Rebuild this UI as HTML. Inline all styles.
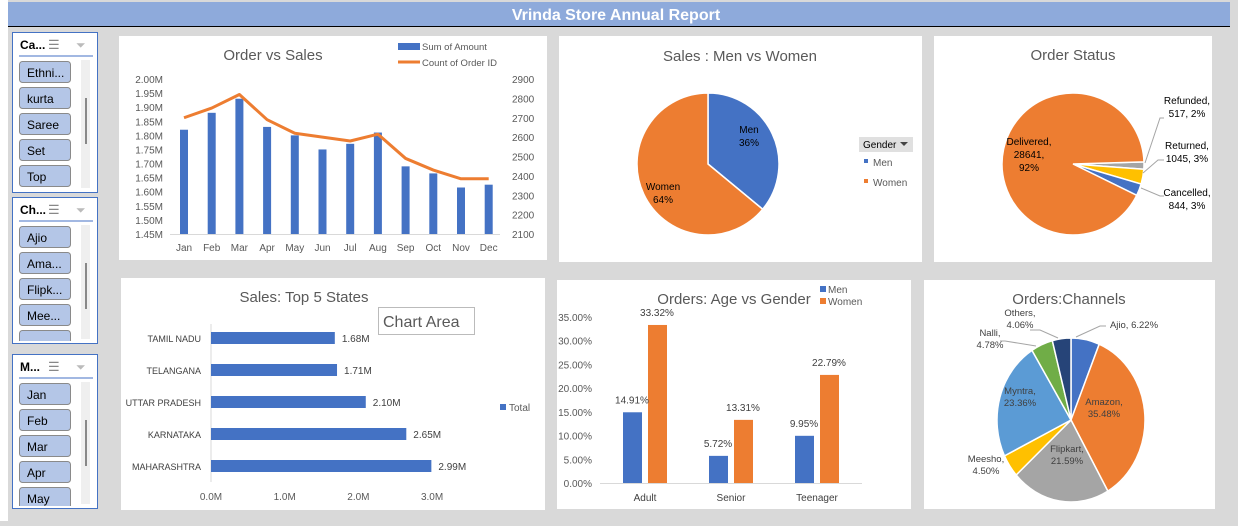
<!DOCTYPE html>
<html><head><meta charset="utf-8">
<style>
body{margin:0;width:1238px;height:521px;overflow:hidden;background:#d9d9d9;font-family:"Liberation Sans",sans-serif;}
svg text{font-family:"Liberation Sans",sans-serif;}
</style></head>
<body>
<svg id="root" width="1238" height="521" xmlns="http://www.w3.org/2000/svg">
<rect x="0" y="0" width="1238" height="521" fill="#d9d9d9"/>
<rect x="0" y="0" width="8" height="521" fill="#ffffff"/>
<rect x="8" y="2" width="1222" height="24" fill="#8eaadb"/>
<line x1="8" y1="26.5" x2="1230" y2="26.5" stroke="#000" stroke-width="1"/>
<text x="616" y="20" text-anchor="middle" font-size="16" font-weight="bold" fill="#fff">Vrinda Store Annual Report</text>
<g id="slicers"></g>
<g id="cards"></g>
<g id="c1"></g><g id="c2"></g><g id="c3"></g><g id="c4"></g><g id="c5"></g><g id="c6"></g>
</svg>
<script>
const NS='http://www.w3.org/2000/svg';
function mk(parent,tag,attrs,text){const e=document.createElementNS(NS,tag);for(const k in attrs)e.setAttribute(k,attrs[k]);if(text!==undefined)e.textContent=text;parent.appendChild(e);return e;}
const $=id=>document.getElementById(id);

// ---------- data ----------
const months=['Jan','Feb','Mar','Apr','May','Jun','Jul','Aug','Sep','Oct','Nov','Dec'];
const salesM=[1.82,1.88,1.93,1.83,1.80,1.75,1.77,1.81,1.69,1.665,1.615,1.625];
const orderCount=[2700,2750,2820,2690,2620,2600,2580,2615,2490,2430,2385,2385];
const leftTicks=[1.45,1.50,1.55,1.60,1.65,1.70,1.75,1.80,1.85,1.90,1.95,2.00];
const rightTicks=[2100,2200,2300,2400,2500,2600,2700,2800,2900];
const genderLabels=['Men','Women'];
const genderShare=[36,64];
const statusLabels=['Refunded','Returned','Cancelled','Delivered'];
const statusCounts=[517,1045,844,28641];
const statusPct=['2%','3%','3%','92%'];
const states=['TAMIL NADU','TELANGANA','UTTAR PRADESH','KARNATAKA','MAHARASHTRA'];
const stateSales=[1.68,1.71,2.10,2.65,2.99];
const stateTicks=[0,1,2,3];
const ageGroups=['Adult','Senior','Teenager'];
const menPct=[14.91,5.72,9.95];
const womenPct=[33.32,13.31,22.79];
const pctTicks=[0,5,10,15,20,25,30,35];
const channels=['Ajio','Amazon','Flipkart','Meesho','Myntra','Nalli','Others'];
const channelPct=[6.22,35.48,21.59,4.50,23.36,4.78,4.06];

// ---------- slicers ----------
const slicerDefs=[{t:'Ca...',y:32,h:160,items:['Ethni...','kurta','Saree','Set','Top']},
{t:'Ch...',y:197,h:146,items:['Ajio','Ama...','Flipk...','Mee...','']},
{t:'M...',y:354,h:154,items:['Jan','Feb','Mar','Apr','May']}];
const sg=$('slicers');
slicerDefs.forEach((s,i)=>{
 const g=mk(sg,'g',{});
 
 
 mk(g,'rect',{x:12.5,y:s.y+.5,width:85,height:s.h,fill:'#fff',stroke:'#4472c4'});
 mk(g,'text',{x:20,y:s.y+17,'font-size':12,'font-weight':'bold',fill:'#000'},s.t);
 mk(g,'text',{x:48,y:s.y+17,'font-size':13,fill:'#888'},'☰');
 mk(g,'text',{x:76,y:s.y+17,'font-size':12,fill:'#bbb'},'⏷');
 mk(g,'line',{x1:19,y1:s.y+24,x2:93,y2:s.y+24,stroke:'#4472c4'});
 mk(g,'rect',{x:81,y:s.y+28,width:9,height:s.h-32,fill:'#efefef'});
 mk(g,'rect',{x:85,y:s.y+66,width:2,height:46,fill:'#888'});
 const clipId='sc'+i;
 const cp=mk(g,'clipPath',{id:clipId});mk(cp,'rect',{x:12,y:s.y+28,width:70,height:s.h-30});
 const gg=mk(g,'g',{'clip-path':'url(#'+clipId+')'});
 s.items.forEach((it,j)=>{
  const b=mk(gg,'g',{});
  
  
  mk(b,'rect',{x:19.5,y:s.y+29.5+j*26,width:51,height:21,rx:3,fill:'#b4c6e7',stroke:'#8a8a8a'});
  mk(b,'text',{x:27,y:s.y+45+j*26,'font-size':12,fill:'#000'},it);
 });
});

// ---------- cards ----------
const cardDefs=[[119,36,428,224,'order-vs-sales-chart'],[559,36,363,226,'gender-sales-chart'],[934,36,278,226,'order-status-chart'],[121,278,424,232,'top-states-chart'],[557,280,354,229,'age-gender-chart'],[924,280,291,229,'channels-chart']];
cardDefs.forEach(c=>{const r=mk($('cards'),'rect',{x:c[0],y:c[1],width:c[2],height:c[3],fill:'#fff'});
 
 });

// ---------- chart 1 ----------
(function(){
 const g=$('c1');
 mk(g,'text',{x:273,y:60,'font-size':15,fill:'#595959','text-anchor':'middle'},'Order vs Sales');
 const x=i=>184+i*27.7;
 const yl=v=>234-(v-1.45)/0.55*155;
 const yr=v=>234-(v-2100)/800*155;
 leftTicks.forEach(t=>{const e=mk(g,'text',{x:163,y:yl(t)+4,'font-size':10,fill:'#595959','text-anchor':'end'},t.toFixed(2)+'M');
  });
 rightTicks.forEach(t=>{const e=mk(g,'text',{x:512,y:yr(t)+4,'font-size':10,fill:'#595959'},t);
  });
 mk(g,'line',{x1:170,y1:234.5,x2:500,y2:234.5,stroke:'#d9d9d9'});
 salesM.forEach((v,i)=>{const r=mk(g,'rect',{x:x(i)-4,y:yl(v),width:8,height:234-yl(v),fill:'#4472c4'});
  });
 const l=mk(g,'polyline',{points:orderCount.map((v,i)=>x(i)+','+yr(v)).join(' '),fill:'none',stroke:'#ed7d31','stroke-width':3,'stroke-linejoin':'round'});
 
 months.forEach((m,i)=>mk(g,'text',{x:x(i),y:251,'font-size':10,fill:'#595959','text-anchor':'middle'},m));
 const lg=mk(g,'g',{});
 mk(lg,'rect',{x:398,y:43,width:22,height:7,fill:'#4472c4'});
 mk(lg,'text',{x:422,y:50,'font-size':9.5,fill:'#595959'},'Sum of Amount');
 mk(lg,'line',{x1:398,y1:62,x2:420,y2:62,stroke:'#ed7d31','stroke-width':3});
 mk(lg,'text',{x:422,y:66,'font-size':9.5,fill:'#595959'},'Count of Order ID');
})();

function pie(g,cx,cy,rx,ry,vals,colors,start,names){
 const tot=vals.reduce((a,b)=>a+b,0);let a=start;const mids=[];
 vals.forEach((v,i)=>{const da=v/tot*2*Math.PI;const a2=a+da;
  const p1=[cx+rx*Math.cos(a),cy+ry*Math.sin(a)],p2=[cx+rx*Math.cos(a2),cy+ry*Math.sin(a2)];
  const p=mk(g,'path',{d:`M${cx},${cy}L${p1[0]},${p1[1]}A${rx},${ry} 0 ${da>Math.PI?1:0} 1 ${p2[0]},${p2[1]}Z`,fill:colors[i],stroke:'#fff','stroke-width':1.5});
  
  
  mids.push((a+a2)/2);a=a2;});
 return mids;
}

// ---------- chart 2 ----------
(function(){
 const g=$('c2');
 mk(g,'text',{x:740,y:61,'font-size':15,fill:'#595959','text-anchor':'middle'},'Sales : Men vs Women');
 pie(g,708,164,71,71,genderShare,['#4472c4','#ed7d31'],-Math.PI/2,genderLabels);
 const lbl=[[749,133],[663,190]];
 genderLabels.forEach((n,i)=>{mk(g,'text',{x:lbl[i][0],y:lbl[i][1],'font-size':10,fill:'#000','text-anchor':'middle'},n);
  mk(g,'text',{x:lbl[i][0],y:lbl[i][1]+13,'font-size':10,fill:'#000','text-anchor':'middle'},genderShare[i]+'%');});
 const lg=mk(g,'g',{});
 mk(lg,'rect',{x:859,y:137,width:54,height:15,fill:'#e0e0e0'});
 mk(lg,'text',{x:863,y:148,'font-size':10,fill:'#000'},'Gender');
 mk(lg,'path',{d:'M900,142L908,142L904,146Z',fill:'#444'});
 mk(lg,'rect',{x:864,y:159,width:4,height:4,fill:'#4472c4'});
 mk(lg,'text',{x:873,y:166,'font-size':10,fill:'#595959'},'Men');
 mk(lg,'rect',{x:864,y:179,width:4,height:4,fill:'#ed7d31'});
 mk(lg,'text',{x:873,y:186,'font-size':10,fill:'#595959'},'Women');
})();

// ---------- chart 3 ----------
(function(){
 const g=$('c3');
 mk(g,'text',{x:1073,y:60,'font-size':15,fill:'#595959','text-anchor':'middle'},'Order Status');
 pie(g,1073,164,71,71,statusCounts,['#a5a5a5','#ffc000','#4472c4','#ed7d31'],-0.03,statusLabels);
 const pos=[[1187,104],[1187,149],[1187,196]];
 [0,1,2].forEach(i=>{mk(g,'text',{x:pos[i][0],y:pos[i][1],'font-size':10,fill:'#000','text-anchor':'middle'},statusLabels[i]+',');
  mk(g,'text',{x:pos[i][0],y:pos[i][1]+13,'font-size':10,fill:'#000','text-anchor':'middle'},statusCounts[i]+', '+statusPct[i]);});
 mk(g,'polyline',{points:'1145,163 1160,118 1164,118',fill:'none',stroke:'#a5a5a5'});
 mk(g,'polyline',{points:'1143,173 1158,160 1164,160',fill:'none',stroke:'#a5a5a5'});
 mk(g,'polyline',{points:'1141,188 1160,196 1164,196',fill:'none',stroke:'#a5a5a5'});
 mk(g,'text',{x:1029,y:145,'font-size':10,fill:'#000','text-anchor':'middle'},statusLabels[3]+',');
 mk(g,'text',{x:1029,y:158,'font-size':10,fill:'#000','text-anchor':'middle'},statusCounts[3]+',');
 mk(g,'text',{x:1029,y:171,'font-size':10,fill:'#000','text-anchor':'middle'},statusPct[3]);
})();

// ---------- chart 4 ----------
(function(){
 const g=$('c4');
 mk(g,'text',{x:304,y:302,'font-size':15,fill:'#595959','text-anchor':'middle'},'Sales: Top 5 States');
 const x=v=>211+v*73.7;
 mk(g,'line',{x1:211,y1:324,x2:211,y2:482,stroke:'#d9d9d9'});
 states.forEach((s,i)=>{const y=338+i*32;
  mk(g,'text',{x:201,y:y+4,'font-size':9,fill:'#404040','text-anchor':'end'},s);
  const r=mk(g,'rect',{x:211,y:y-6,width:x(stateSales[i])-211,height:12,fill:'#4472c4'});
  
  mk(g,'text',{x:x(stateSales[i])+7,y:y+4,'font-size':10,fill:'#404040'},stateSales[i].toFixed(2)+'M');});
 stateTicks.forEach(t=>mk(g,'text',{x:x(t),y:500,'font-size':10,fill:'#595959','text-anchor':'middle'},t.toFixed(1)+'M'));
 mk(g,'rect',{x:500,y:404,width:6,height:6,fill:'#4472c4'});
 mk(g,'text',{x:509,y:411,'font-size':10,fill:'#595959'},'Total');
 const tip=mk(g,'g',{});
 mk(tip,'rect',{x:378.5,y:307.5,width:96,height:27,fill:'#fff',stroke:'#bbb'});
 mk(tip,'text',{x:383,y:327,'font-size':16,fill:'#595959'},'Chart Area');
})();

// ---------- chart 5 ----------
(function(){
 const g=$('c5');
 mk(g,'text',{x:734,y:304,'font-size':15,fill:'#595959','text-anchor':'middle'},'Orders: Age vs Gender');
 const y=v=>483-v/35*166;
 pctTicks.forEach(t=>mk(g,'text',{x:592,y:y(t)+4,'font-size':10,fill:'#595959','text-anchor':'end'},t.toFixed(2)+'%'));
 mk(g,'line',{x1:600,y1:483.5,x2:862,y2:483.5,stroke:'#d9d9d9'});
 ageGroups.forEach((a,i)=>{const cx=645+i*86;
  const r1=mk(g,'rect',{x:cx-22,y:y(menPct[i]),width:19,height:483-y(menPct[i]),fill:'#4472c4'});
  
  const r2=mk(g,'rect',{x:cx+3,y:y(womenPct[i]),width:19,height:483-y(womenPct[i]),fill:'#ed7d31'});
  
  mk(g,'text',{x:cx-13,y:y(menPct[i])-9,'font-size':10,fill:'#404040','text-anchor':'middle'},menPct[i].toFixed(2)+'%');
  mk(g,'text',{x:cx+12,y:y(womenPct[i])-9,'font-size':10,fill:'#404040','text-anchor':'middle'},womenPct[i].toFixed(2)+'%');
  mk(g,'text',{x:cx,y:501,'font-size':10,fill:'#404040','text-anchor':'middle'},a);});
 mk(g,'rect',{x:820,y:286,width:6,height:6,fill:'#4472c4'});
 mk(g,'text',{x:828,y:293,'font-size':10,fill:'#595959'},'Men');
 mk(g,'rect',{x:820,y:298,width:6,height:6,fill:'#ed7d31'});
 mk(g,'text',{x:828,y:305,'font-size':10,fill:'#595959'},'Women');
})();

// ---------- chart 6 ----------
(function(){
 const g=$('c6');
 mk(g,'text',{x:1069,y:304,'font-size':15,fill:'#595959','text-anchor':'middle'},'Orders:Channels');
 pie(g,1071,420,74,82,channelPct,['#4472c4','#ed7d31','#a5a5a5','#ffc000','#5b9bd5','#70ad47','#264478'],-Math.PI/2,channels);
 const L=[[1134,328,'Ajio, '+channelPct[0].toFixed(2)+'%',null],[1104,405,'Amazon,',channelPct[1].toFixed(2)+'%'],[1067,452,'Flipkart,',channelPct[2].toFixed(2)+'%'],[986,462,'Meesho,',channelPct[3].toFixed(2)+'%'],[1020,394,'Myntra,',channelPct[4].toFixed(2)+'%'],[990,336,'Nalli,',channelPct[5].toFixed(2)+'%'],[1020,316,'Others,',channelPct[6].toFixed(2)+'%']];
 L.forEach(l=>{mk(g,'text',{x:l[0],y:l[1],'font-size':9.5,fill:'#404040','text-anchor':'middle'},l[2]);
  if(l[3])mk(g,'text',{x:l[0],y:l[1]+12,'font-size':9.5,fill:'#404040','text-anchor':'middle'},l[3]);});
 mk(g,'polyline',{points:'1076,337 1100,326 1106,326',fill:'none',stroke:'#a5a5a5'});
 mk(g,'polyline',{points:'1036,346 1005,341 1000,341',fill:'none',stroke:'#a5a5a5'});
 mk(g,'polyline',{points:'1058,338 1040,330 1030,330',fill:'none',stroke:'#a5a5a5'});
})();
</script>
</body></html>
